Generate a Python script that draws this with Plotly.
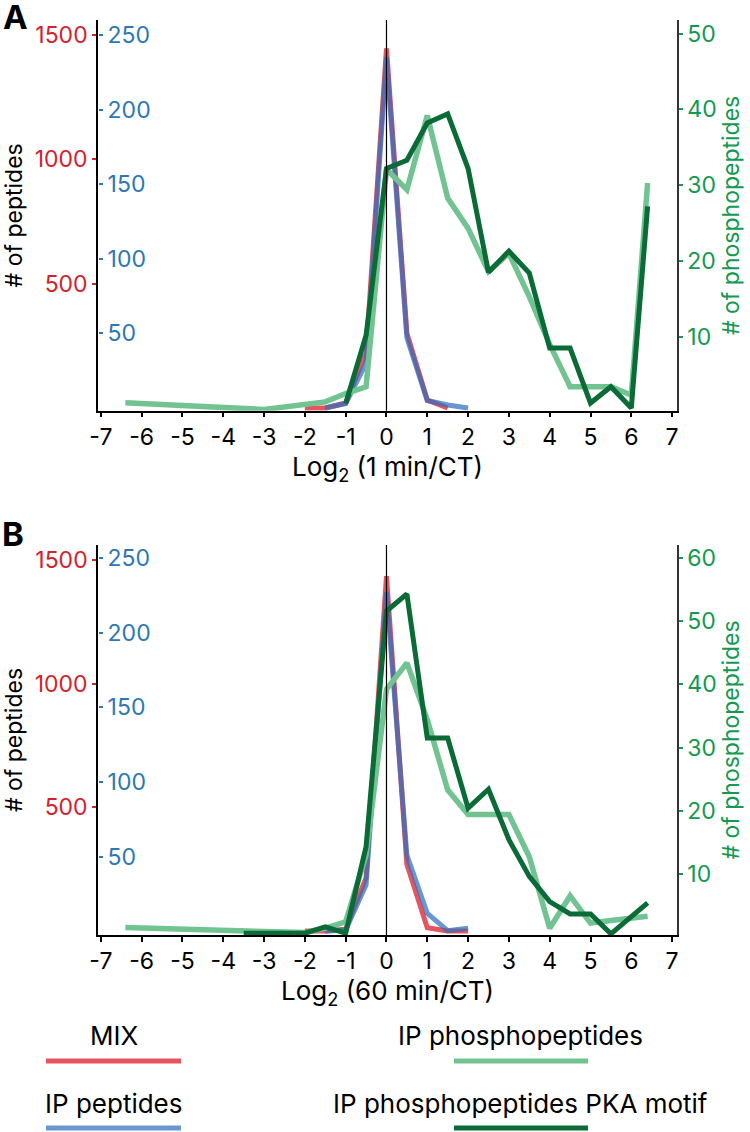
import plotly.graph_objects as go

# ---------------- data ----------------
x_ticks = [-7, -6, -5, -4, -3, -2, -1, 0, 1, 2, 3, 4, 5, 6, 7]
red_ticks = [500, 1000, 1500]
blue_ticks = [50, 100, 150, 200, 250]
green_ticks_a = [10, 20, 30, 40, 50]
green_ticks_b = [10, 20, 30, 40, 50, 60]

# Panel A (1 min / CT)
x_mix_a = [-2, -1.5, -1, -0.5, 0, 0.5, 1, 1.5]
mix_a = [0, 0, 20, 221, 1446, 301, 32, 0]
x_ip_a = [-1.5, -1, -0.5, 0, 0.5, 1, 1.5, 2]
ip_a = [0, 3, 30, 235, 47, 5, 2, 0]
x_phos_a = [-6.4, -3, -1.5, -1, -0.5, 0, 0.5, 1, 1.5, 2, 2.5, 3, 3.5, 4, 4.5, 5, 5.5, 6, 6.4]
phos_a = [1.3, 0.4, 1.4, 2.5, 3.4, 32.1, 29.4, 39.2, 28.3, 24.3, 18.6, 21.0, 15.3, 9.0, 3.4, 3.4, 3.4, 2.3, 30.3]
x_pka_a = [-1, -0.5, 0, 0.5, 1, 1.5, 2, 2.5, 3, 3.5, 4, 4.5, 5, 5.5, 6, 6.4]
pka_a = [1.2, 10.2, 32.2, 33.3, 38.2, 39.4, 32.2, 18.5, 21.3, 18.4, 8.5, 8.5, 1.25, 3.4, 0.6, 27.2]

# Panel B (60 min / CT)
x_mix_b = [-2, -1.5, -1, -0.5, 0, 0.5, 1, 1.5, 2]
mix_b = [0, 0, 7, 216, 1435, 270, 13, 0, 0]
x_ip_b = [-1.5, -1, -0.5, 0, 0.5, 1, 1.5, 2]
ip_b = [0, 1, 31, 227, 51, 12, 0.4, 2]
x_phos_b = [-6.4, -2, -1.5, -1, -0.5, 0, 0.5, 1, 1.5, 2, 2.5, 3, 3.5, 4, 4.5, 5, 5.5, 6, 6.4]
phos_b = [1.5, 0.7, 1.4, 2.4, 13, 39.2, 43.4, 34.4, 23.3, 19.4, 19.4, 19.4, 12.7, 1.4, 6.5, 2.2, 2.6, 3.0, 3.3]
x_pka_b = [-3.5, -3, -2.5, -2, -1.5, -1, -0.5, 0, 0.5, 1, 1.5, 2, 2.5, 3, 3.5, 4, 4.5, 5, 5.5, 6.4]
pka_b = [0.6, 0.6, 0.6, 0.6, 1.6, 0.6, 14.3, 51.6, 54.3, 31.5, 31.5, 20.4, 23.4, 15.4, 9.6, 5.6, 3.65, 3.65, 0.5, 5.4]

series_names = ["MIX", "IP peptides", "IP phosphopeptides", "IP phosphopeptides PKA motif"]

# ---------------- style ----------------
FONT = "Inter, Liberation Sans, Arial, sans-serif"
C_RED = "#e4555f"
C_BLUE = "#2f6fbf"
C_LGREEN = "#72c392"
C_DGREEN = "#0b6b36"
T_RED = "#d3222c"
T_BLUE = "#2c78b6"
T_GREEN = "#139a4f"
TICK_SIZE = 23
YTITLE_SIZE = 23
XTITLE_SIZE = 26
LEG_SIZE = 26

W, H = 750, 1132
ML, MR, MT, MB = 98, 73, 20, 197
PW = W - ML - MR
PH = H - MT - MB


def px(xp):
    return (xp - ML) / PW


def py(yp):
    return (H - MB - yp) / PH


fig = go.Figure()


def add_panel(xa, ya_red, ya_blue, ya_green, xm, ym, xi, yi, xp, yp, xk, yk):
    fig.add_trace(go.Scatter(x=xm, y=ym, xaxis=xa, yaxis=ya_red, mode="lines",
                             line=dict(color=C_RED, width=5), name=series_names[0], showlegend=False))
    fig.add_trace(go.Scatter(x=xi, y=yi, xaxis=xa, yaxis=ya_blue, mode="lines", opacity=0.72,
                             line=dict(color=C_BLUE, width=5), name=series_names[1], showlegend=False))
    fig.add_trace(go.Scatter(x=xp, y=yp, xaxis=xa, yaxis=ya_green, mode="lines",
                             line=dict(color=C_LGREEN, width=5.5), name=series_names[2], showlegend=False))
    fig.add_trace(go.Scatter(x=xk, y=yk, xaxis=xa, yaxis=ya_green, mode="lines",
                             line=dict(color=C_DGREEN, width=5), name=series_names[3], showlegend=False))


add_panel("x", "y", "y2", "y3", x_mix_a, mix_a, x_ip_a, ip_a, x_phos_a, phos_a, x_pka_a, pka_a)
add_panel("x2", "y4", "y5", "y6", x_mix_b, mix_b, x_ip_b, ip_b, x_phos_b, phos_b, x_pka_b, pka_b)

dom_a = [py(410.7), 1]
dom_b = [0, py(545)]

xcommon = dict(range=[-7.07, 7.12], tickvals=x_ticks, ticktext=[str(v) for v in x_ticks],
               ticks="outside", ticklen=5, tickwidth=1.5, tickcolor="black", automargin=False,
               showline=True, linecolor="black", linewidth=1.5, showgrid=False, zeroline=False,
               tickfont=dict(size=TICK_SIZE, color="black", family=FONT))

red_common = dict(tickvals=red_ticks, ticks="outside", ticklen=4, tickwidth=1.5, tickcolor=T_RED,
                  tickfont=dict(size=TICK_SIZE, color=T_RED, family=FONT), showline=True, linecolor="black",
                  linewidth=1.5, showgrid=False, zeroline=False, side="left", automargin=False,
                  title=dict(text="# of peptides", font=dict(size=YTITLE_SIZE, color="black", family=FONT), standoff=6))
blue_common = dict(tickvals=blue_ticks, ticks="outside", ticklen=4, tickwidth=1.5, tickcolor=T_BLUE,
                   tickfont=dict(size=TICK_SIZE, color=T_BLUE, family=FONT), anchor="free", position=0,
                   showline=False, showgrid=False, zeroline=False, side="right", automargin=False)
green_common = dict(ticks="outside", ticklen=4, tickwidth=1.5, tickcolor=T_GREEN, automargin=False,
                    tickfont=dict(size=TICK_SIZE, color=T_GREEN, family=FONT), showline=True, linecolor="#333333",
                    linewidth=1.5, showgrid=False, zeroline=False, side="right",
                    title=dict(text="# of phosphopeptides", font=dict(size=YTITLE_SIZE, color=T_GREEN, family=FONT), standoff=6))

fig.update_layout(
    width=W, height=H, margin=dict(l=ML, r=MR, t=MT, b=MB, autoexpand=False),
    paper_bgcolor="white", plot_bgcolor="white", showlegend=False,
    font=dict(family=FONT, color="black"),
    xaxis=dict(domain=[0, 1], anchor="y",
               title=dict(text="Log<sub>2</sub> (1 min/CT)", standoff=2,
                          font=dict(size=XTITLE_SIZE, color="black", family=FONT)), **xcommon),
    xaxis2=dict(domain=[0, 1], anchor="y4",
                title=dict(text="Log<sub>2</sub> (60 min/CT)", standoff=2,
                           font=dict(size=XTITLE_SIZE, color="black", family=FONT)), **xcommon),
    yaxis=dict(domain=dom_a, anchor="x", range=[-10.9, 1560], **red_common),
    yaxis2=dict(overlaying="y", range=[-1.8, 260], **blue_common),
    yaxis3=dict(overlaying="y", anchor="x", range=[0.24, 51.8], tickvals=green_ticks_a, **green_common),
    yaxis4=dict(domain=dom_b, anchor="x2", range=[-16.2, 1560.7], **red_common),
    yaxis5=dict(overlaying="y4", range=[-2.5, 258.7], **blue_common),
    yaxis6=dict(overlaying="y4", anchor="x2", range=[0.32, 62.06], tickvals=green_ticks_b, **green_common),
)

# vertical reference lines at x = 0
fig.add_shape(type="line", xref="x", yref="y domain", x0=0, x1=0, y0=0, y1=1,
              line=dict(color="black", width=1.2), layer="above")
fig.add_shape(type="line", xref="x2", yref="y4 domain", x0=0, x1=0, y0=0, y1=1,
              line=dict(color="black", width=1.2), layer="above")

# panel letters
fig.add_annotation(text="<b>A</b>", xref="paper", yref="paper", x=px(15), y=py(17), showarrow=False,
                   xanchor="center", yanchor="middle", font=dict(size=33, color="black", family=FONT))
fig.add_annotation(text="<b>B</b>", xref="paper", yref="paper", x=px(13), y=py(534), showarrow=False,
                   xanchor="center", yanchor="middle", font=dict(size=33, color="black", family=FONT))

# custom legend (text above line swatch)
legend_items = [
    (series_names[0], C_RED, 114, 1035, 46, 181, 1061, 1.0),
    (series_names[1], C_BLUE, 114, 1103, 46, 181, 1128, 0.72),
    (series_names[2], C_LGREEN, 520, 1035, 454, 588, 1061, 1.0),
    (series_names[3], C_DGREEN, 520, 1103, 454, 588, 1128, 1.0),
]
for name, col, tx, ty, x0, x1, ly, op in legend_items:
    fig.add_annotation(text=name, xref="paper", yref="paper", x=px(tx), y=py(ty), showarrow=False,
                       xanchor="center", yanchor="middle", font=dict(size=LEG_SIZE, color="black", family=FONT))
    fig.add_shape(type="line", xref="paper", yref="paper", x0=px(x0), x1=px(x1), y0=py(ly), y1=py(ly),
                  line=dict(color=col, width=5), opacity=op)

fig.write_html("out.html", config={"displayModeBar": False},
               post_script="document.body.style.margin='0';document.body.style.overflow='hidden';")
